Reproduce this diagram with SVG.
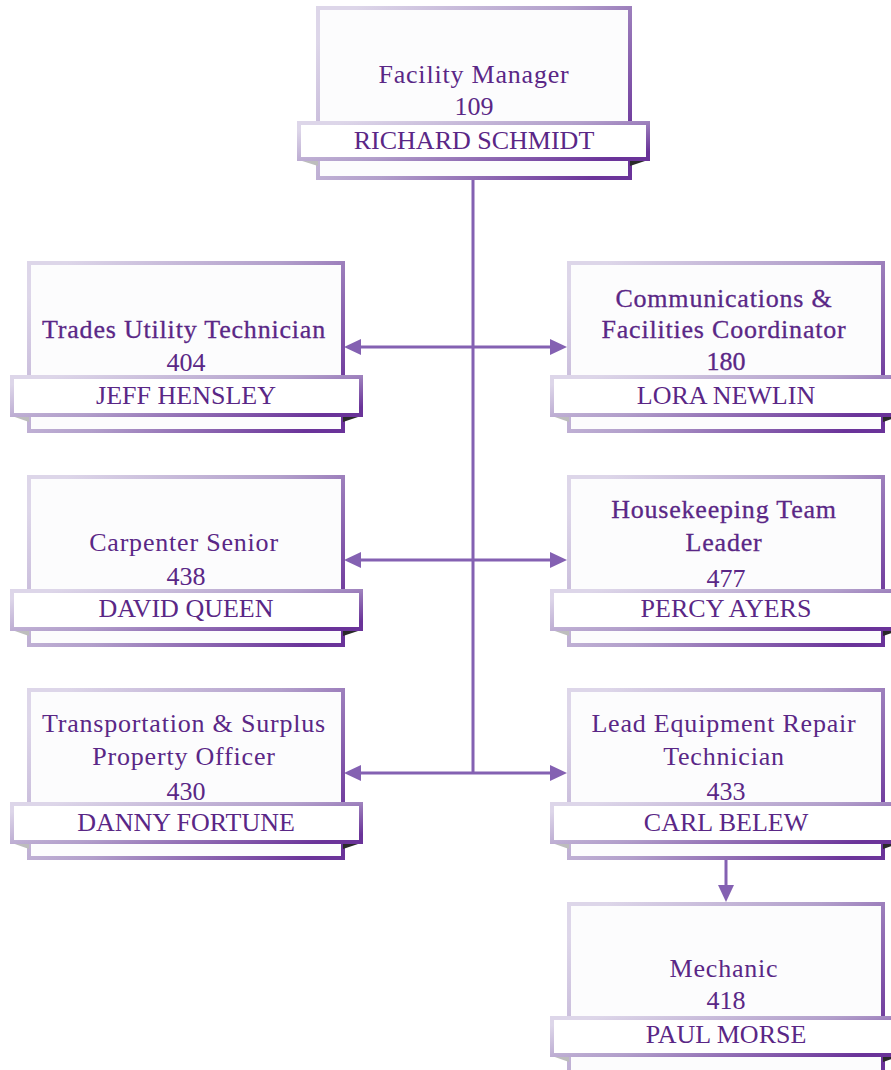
<svg xmlns="http://www.w3.org/2000/svg" width="891" height="1070" viewBox="0 0 891 1070">
<defs>
<linearGradient id="g" x1="0" y1="0.2" x2="1" y2="0.8">
<stop offset="0" stop-color="#ddd6e9"/>
<stop offset="0.5" stop-color="#b29fcb"/>
<stop offset="1" stop-color="#6a3399"/>
</linearGradient>
<marker id="ah" viewBox="0 0 17 16" refX="7" refY="8" markerWidth="17" markerHeight="16" markerUnits="userSpaceOnUse" orient="auto-start-reverse">
<path d="M0,0 L17,8 L0,16 z" fill="#8461b2"/>
</marker>
<style>
.box{fill:#fcfcfd;stroke:url(#g);stroke-width:4}
.band{fill:#ffffff;stroke:url(#g);stroke-width:4}
.fl{fill:#bdbdbd}
.fr{fill:#2a2a2a}
.t{font-family:"Liberation Serif",serif;font-size:26px;fill:#5a2786;text-anchor:middle;letter-spacing:0.8px}
.sb{stroke:#5a2786;stroke-width:0.3}
.n{font-family:"Liberation Serif",serif;font-size:26px;fill:#5a2786;text-anchor:middle}
.c{fill:none;stroke:#8461b2;stroke-width:3}
</style>
</defs>
<g id="connectors">
<path class="c" d="M473,180 L473,774"/>
<path class="c" d="M354,347 L557,347" marker-start="url(#ah)" marker-end="url(#ah)"/>
<path class="c" d="M354,560 L557,560" marker-start="url(#ah)" marker-end="url(#ah)"/>
<path class="c" d="M354,773 L557,773" marker-start="url(#ah)" marker-end="url(#ah)"/>
<path class="c" d="M726,860 L726,892" marker-end="url(#ah)"/>
</g>
<g id="facility-manager">
<rect class="box" x="318" y="8" width="312" height="170"/>
<path class="fl" d="M299,160 L318,160 L318,166 z"/>
<path class="fr" d="M630,160 L648,160 L630,166 z"/>
<rect class="band" x="299" y="123" width="349" height="36"/>
<text class="t" x="474" y="83">Facility Manager</text>
<text class="n" x="474" y="115">109</text>
<text class="n" x="474" y="149">RICHARD SCHMIDT</text>
</g>
<g id="trades-utility">
<rect class="box" x="29" y="263" width="314" height="168"/>
<path class="fl" d="M12,416 L29,416 L29,422 z"/>
<path class="fr" d="M343,416 L361,416 L343,422 z"/>
<rect class="band" x="12" y="377" width="349" height="38"/>
<text class="t sb" x="184" y="338">Trades Utility Technician</text>
<text class="n" x="186" y="371">404</text>
<text class="n" x="186" y="404">JEFF HENSLEY</text>
</g>
<g id="communications">
<rect class="box" x="569" y="263" width="314" height="168"/>
<path class="fl" d="M552,416 L569,416 L569,422 z"/>
<path class="fr" d="M883,416 L901,416 L883,422 z"/>
<rect class="band" x="552" y="377" width="349" height="38"/>
<text class="t sb" x="724" y="307">Communications &amp;</text>
<text class="t sb" x="724" y="338">Facilities Coordinator</text>
<text class="n sb" x="726" y="370">180</text>
<text class="n" x="726" y="404">LORA NEWLIN</text>
</g>
<g id="carpenter">
<rect class="box" x="29" y="477" width="314" height="168"/>
<path class="fl" d="M12,630 L29,630 L29,636 z"/>
<path class="fr" d="M343,630 L361,630 L343,636 z"/>
<rect class="band" x="12" y="591" width="349" height="38"/>
<text class="t" x="184" y="551">Carpenter Senior</text>
<text class="n" x="186" y="585">438</text>
<text class="n" x="186" y="617">DAVID QUEEN</text>
</g>
<g id="housekeeping">
<rect class="box" x="569" y="477" width="314" height="168"/>
<path class="fl" d="M552,630 L569,630 L569,636 z"/>
<path class="fr" d="M883,630 L901,630 L883,636 z"/>
<rect class="band" x="552" y="591" width="349" height="38"/>
<text class="t sb" x="724" y="518">Housekeeping Team</text>
<text class="t sb" x="724" y="551">Leader</text>
<text class="n" x="726" y="587">477</text>
<text class="n" x="726" y="617">PERCY AYERS</text>
</g>
<g id="transportation">
<rect class="box" x="29" y="690" width="314" height="168"/>
<path class="fl" d="M12,843 L29,843 L29,849 z"/>
<path class="fr" d="M343,843 L361,843 L343,849 z"/>
<rect class="band" x="12" y="804" width="349" height="38"/>
<text class="t" x="184" y="732">Transportation &amp; Surplus</text>
<text class="t" x="184" y="765">Property Officer</text>
<text class="n" x="186" y="800">430</text>
<text class="n" x="186" y="831">DANNY FORTUNE</text>
</g>
<g id="lead-equipment">
<rect class="box" x="569" y="690" width="314" height="168"/>
<path class="fl" d="M552,843 L569,843 L569,849 z"/>
<path class="fr" d="M883,843 L901,843 L883,849 z"/>
<rect class="band" x="552" y="804" width="349" height="38"/>
<text class="t" x="724" y="732">Lead Equipment Repair</text>
<text class="t" x="724" y="765">Technician</text>
<text class="n" x="726" y="800">433</text>
<text class="n" x="726" y="831">CARL BELEW</text>
</g>
<g id="mechanic">
<rect class="box" x="569" y="904" width="314" height="168"/>
<path class="fl" d="M552,1056 L569,1056 L569,1062 z"/>
<path class="fr" d="M883,1056 L901,1056 L883,1062 z"/>
<rect class="band" x="552" y="1018" width="349" height="37"/>
<text class="t" x="724" y="977">Mechanic</text>
<text class="n" x="726" y="1009">418</text>
<text class="n" x="726" y="1043">PAUL MORSE</text>
</g>
</svg>
